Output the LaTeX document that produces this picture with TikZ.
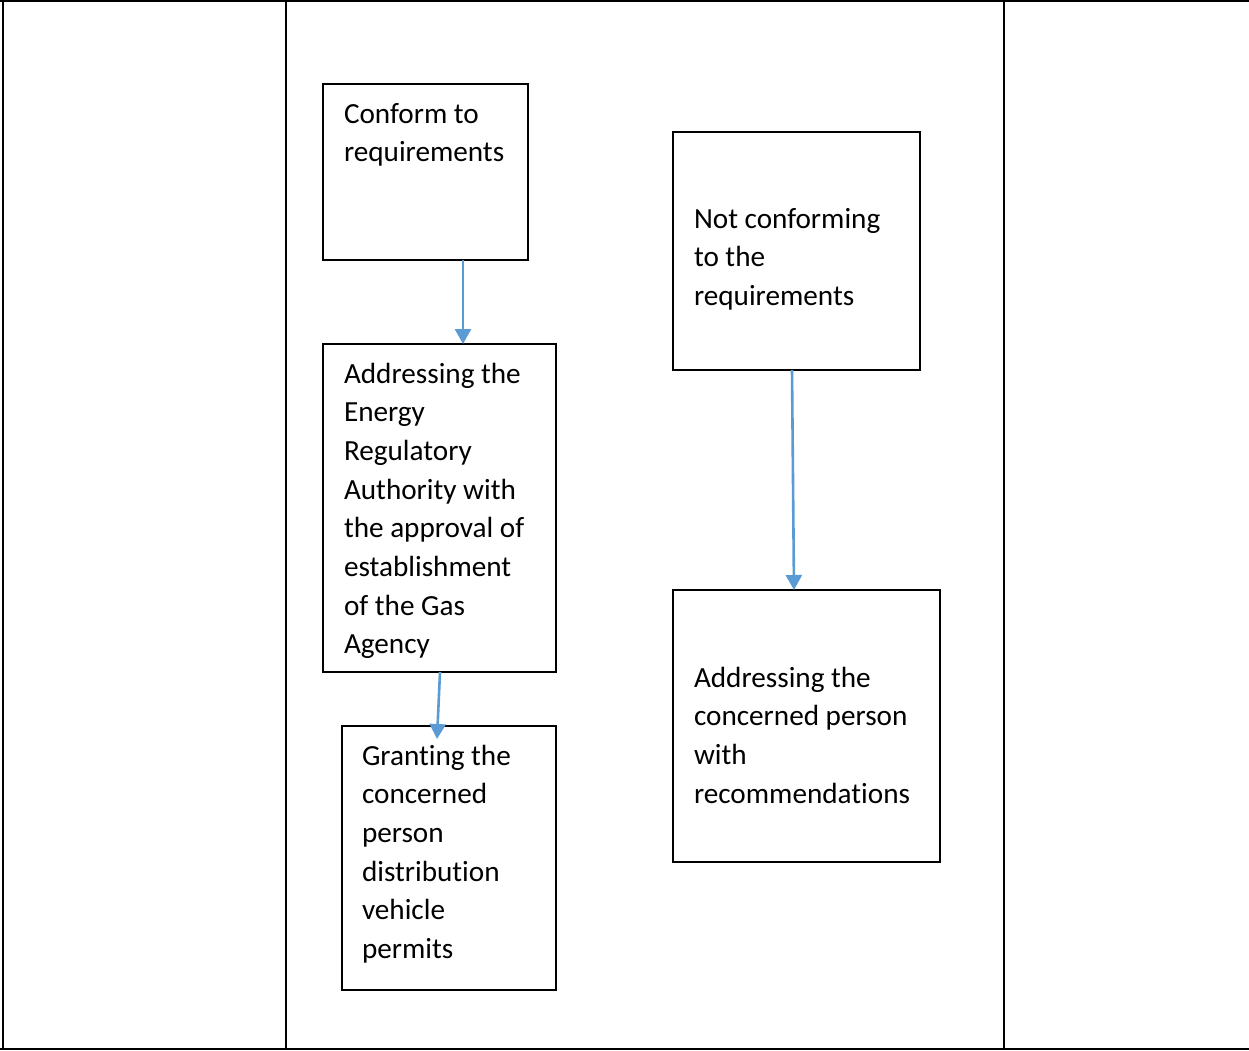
\documentclass[tikz,border=0pt]{standalone}
\usepackage{fontspec}
\setmainfont{Carlito}[Ligatures={NoCommon}, RawFeature={-liga;-clig}]
\usetikzlibrary{arrows.meta}
\definecolor{flowblue}{RGB}{91,155,213}
\newcommand\boxlines[1]{\parbox[t]{400pt}{\raggedright #1}}
\begin{document}
\begin{tikzpicture}[x=1pt,y=-1pt,
  frame/.style={line width=2.5pt, black},
  stepbox/.style={draw=black, line width=1.3pt, anchor=north west, inner sep=0pt, outer sep=0pt},
  boxtext/.style={anchor=base west, inner sep=0pt, outer sep=0pt, font=\fontsize{29.2}{38.67}\selectfont},
  arr/.style={draw=flowblue, line width=2.6pt, -{Triangle[width=16pt,length=15pt]}}]

\useasboundingbox (0,0) rectangle (1249,1050);

% table frame
\draw[frame] (0,1) -- (1249,1);
\draw[frame] (0,1049) -- (1249,1049);
\draw[frame] (3,0) -- (3,1050);
\draw[frame] (286,0) -- (286,1050);
\draw[frame] (1004,0) -- (1004,1050);

% boxes
\node[stepbox, minimum width=205, minimum height=176] (b1) at (323,84) {};
\node[stepbox, minimum width=233, minimum height=328] (b2) at (323,344) {};
\node[stepbox, minimum width=214, minimum height=264] (b3) at (342,726) {};
\node[stepbox, minimum width=247, minimum height=238] (b4) at (673,132) {};
\node[stepbox, minimum width=267, minimum height=272] (b5) at (673,590) {};

% box texts
\node[boxtext] (t1) at (344,123) {\boxlines{Conform to\\requirements}};
\node[boxtext] (t2) at (344,383) {\boxlines{Addressing the\\Energy\\Regulatory\\Authority with\\the approval of\\establishment\\of the Gas\\Agency}};
\node[boxtext] (t3) at (362,765) {\boxlines{Granting the\\concerned\\person\\distribution\\vehicle\\permits}};
\node[boxtext] (t4) at (694,228) {\boxlines{Not conforming\\to the\\requirements}};
\node[boxtext] (t5) at (694,687) {\boxlines{Addressing the\\concerned person\\with\\recommendations}};

% connectors
\coordinate (g) at (437,739);
\draw[arr] (463,0 |- b1.south) -- (463,0 |- b2.north);
\draw[arr] (440,0 |- b2.south) -- (g);
\draw[arr] (792,0 |- b4.south) -- (794,0 |- b5.north);
\end{tikzpicture}
\end{document}
